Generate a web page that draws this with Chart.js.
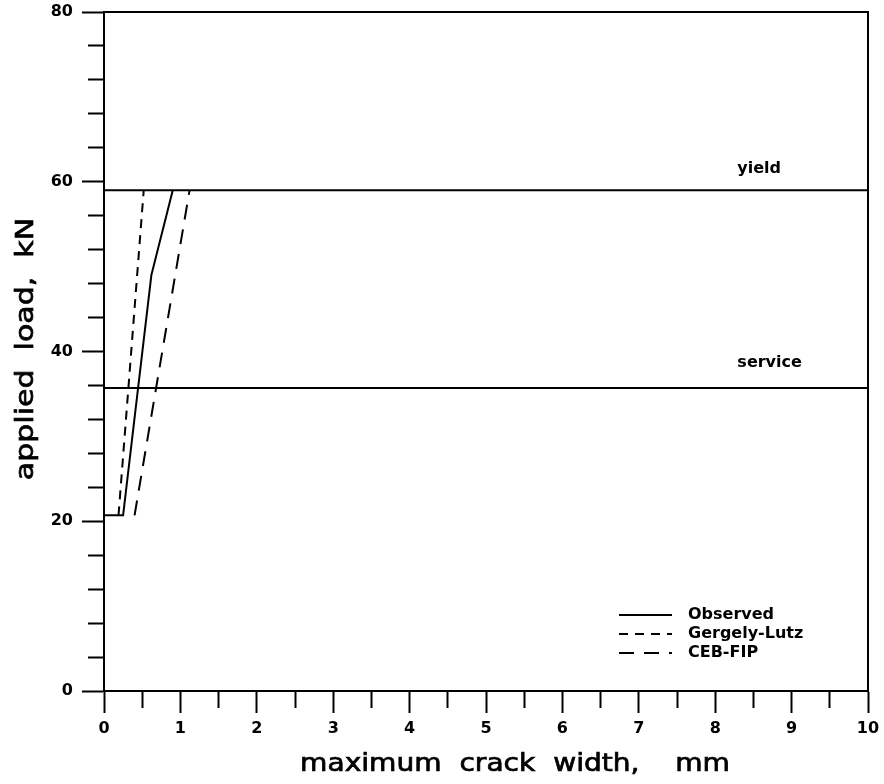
<!DOCTYPE html>
<html>
<head>
<meta charset="utf-8">
<script src="https://cdn.jsdelivr.net/npm/chart.js@4"></script>
<style>
  html, body { margin: 0; padding: 0; background: #fff; }
  #wrap { width: 884px; height: 784px; }
</style>
</head>
<body>
<div id="wrap"><canvas id="crackChart" width="884" height="784"></canvas></div>
<script>
// maximum crack width (mm) against applied load (kN)
const observedWidth = [0, 0.25, 0.62, 0.9];
const observedLoad = [20.7, 20.7, 49, 59];
const gergelyWidth = [0.19, 0.52];
const gergelyLoad = [20.7, 59];
const cebWidth = [0.4, 1.12];
const cebLoad = [20.7, 59];

// reference load levels
const yieldLoad = 59;
const serviceLoad = 35.7;

const xRange = [0, 10];
const yRange = [0, 80];
const xLabelTicks = [0, 1, 2, 3, 4, 5, 6, 7, 8, 9, 10];
const yLabelTicks = [0, 20, 40, 60, 80];

const FONT = "'DejaVu Sans', sans-serif";
const black = '#000';

function pts(xs, ys) {
  return xs.map((x, i) => ({ x: x, y: ys[i] }));
}

const datasets = [
  { label: 'Observed', data: pts(observedWidth, observedLoad), borderDash: [], legend: true },
  { label: 'Gergely-Lutz', data: pts(gergelyWidth, gergelyLoad), borderDash: [9, 7], legend: true },
  { label: 'CEB-FIP', data: pts(cebWidth, cebLoad), borderDash: [15, 10], legend: true },
  { label: 'yield', data: pts(xRange, [yieldLoad, yieldLoad]), borderDash: [], level: yieldLoad, gap: 17 },
  { label: 'service', data: pts(xRange, [serviceLoad, serviceLoad]), borderDash: [], level: serviceLoad, gap: 21 }
];

// keep the plot box fixed: no extra room for overhanging tick labels
function noOverhang(s) {
  s.paddingTop = 0;
  s.paddingBottom = 0;
  s.paddingLeft = 0;
  s.paddingRight = 0;
}

// stretched, slightly heavier text for the axis titles
function wideText(ctx, text, x, y, rot, sx) {
  ctx.save();
  ctx.translate(x, y);
  ctx.rotate(rot);
  ctx.scale(sx, 1);
  ctx.fillText(text, 0, 0);
  ctx.lineWidth = 0.7;
  ctx.strokeText(text, 0, 0);
  ctx.restore();
}

// text over the yield / service lines, legend and axis titles
const annotations = {
  id: 'annotations',
  afterDatasetsDraw(chart) {
    const { ctx, chartArea, scales } = chart;
    ctx.save();
    ctx.fillStyle = black;
    ctx.strokeStyle = black;

    // level labels
    ctx.font = 'bold 16px ' + FONT;
    ctx.textAlign = 'left';
    ctx.textBaseline = 'alphabetic';
    chart.data.datasets.forEach(ds => {
      if (ds.level === undefined) return;
      ctx.fillText(ds.label, scales.x.getPixelForValue(8.29), scales.y.getPixelForValue(ds.level) - ds.gap);
    });

    // legend
    const lx = chartArea.right - 249;
    let ly = chartArea.bottom - 76;
    ctx.lineWidth = 2;
    ctx.textBaseline = 'middle';
    chart.data.datasets.filter(ds => ds.legend).forEach(ds => {
      ctx.setLineDash(ds.borderDash);
      ctx.beginPath();
      ctx.moveTo(lx, ly);
      ctx.lineTo(lx + 53, ly);
      ctx.stroke();
      ctx.fillText(ds.label, lx + 69, ly);
      ly += 19;
    });
    ctx.setLineDash([]);

    // axis titles
    ctx.font = '24px ' + FONT;
    ctx.textAlign = 'center';
    wideText(ctx, 'maximum  crack  width,    mm', 515, 765, 0, 1.17);
    wideText(ctx, 'applied  load,  kN', 27, 349, -Math.PI / 2, 1.25);

    ctx.restore();
  }
};

const tickFont = { family: FONT, size: 16, weight: 'bold' };

new Chart(document.getElementById('crackChart'), {
  type: 'line',
  data: {
    datasets: datasets.map(ds => Object.assign({
      borderColor: black,
      borderWidth: 2,
      pointRadius: 0,
      fill: false,
      tension: 0
    }, ds))
  },
  options: {
    responsive: false,
    animation: false,
    layout: { padding: 0 },
    plugins: { legend: { display: false }, tooltip: { enabled: false } },
    scales: {
      x: {
        type: 'linear',
        position: 'bottom',
        min: xRange[0],
        max: xRange[1],
        afterFit: s => { s.height = 93; noOverhang(s); },
        ticks: {
          stepSize: 0.5,
          autoSkip: false,
          maxRotation: 0,
          padding: 6,
          color: black,
          font: tickFont,
          callback: v => xLabelTicks.includes(v) ? String(v) : ''
        },
        grid: {
          drawOnChartArea: false,
          tickLength: 22,
          tickWidth: 2,
          tickColor: black,
          tickBorderDash: c => (c.tick && c.tick.value % 1 !== 0) ? [16, 100] : []
        },
        border: { color: black, width: 2 }
      },
      xTop: {
        type: 'linear',
        position: 'top',
        min: xRange[0],
        max: xRange[1],
        afterFit: s => { s.height = 12; noOverhang(s); },
        ticks: { display: false },
        grid: { display: false },
        border: { color: black, width: 2 }
      },
      y: {
        type: 'linear',
        position: 'left',
        min: yRange[0],
        max: yRange[1],
        afterFit: s => { s.width = 104; noOverhang(s); },
        ticks: {
          stepSize: 4,
          autoSkip: false,
          padding: 9,
          color: black,
          font: tickFont,
          callback: v => yLabelTicks.includes(v) ? String(v) : ''
        },
        grid: {
          drawOnChartArea: false,
          tickLength: 22,
          tickWidth: 2,
          tickColor: black,
          tickBorderDash: c => (c.tick && c.tick.value % 20 !== 0) ? [16, 100] : [],
          tickBorderDashOffset: c => (c.tick && c.tick.value % 20 !== 0) ? -6 : 0
        },
        border: { color: black, width: 2 }
      },
      yRight: {
        type: 'linear',
        position: 'right',
        min: yRange[0],
        max: yRange[1],
        afterFit: s => { s.width = 16; noOverhang(s); },
        ticks: { display: false },
        grid: { display: false },
        border: { color: black, width: 2 }
      }
    }
  },
  plugins: [annotations]
});
</script>
</body>
</html>
